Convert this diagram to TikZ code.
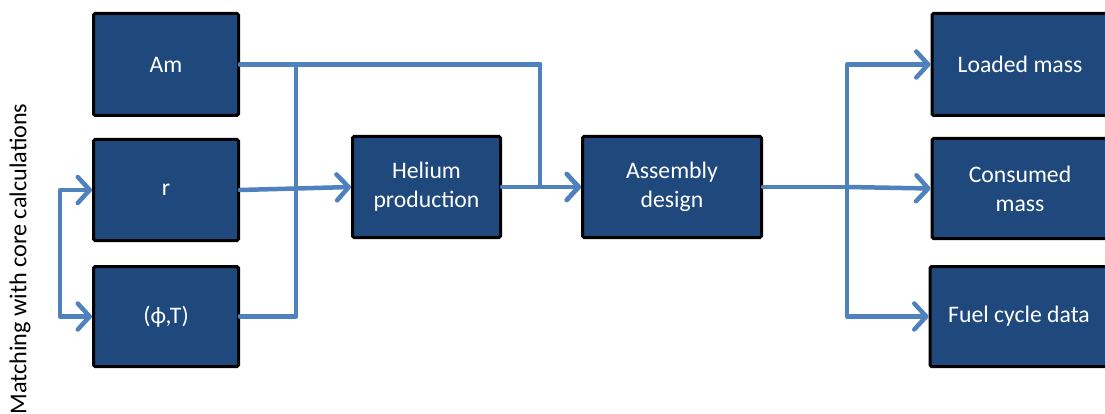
\documentclass[tikz,border=0pt]{standalone}
\usepackage{fontspec}
\setmainfont{Carlito}
\usetikzlibrary{arrows.meta}
\definecolor{boxblue}{HTML}{1F497D}
\definecolor{linkblue}{HTML}{4F81BD}
\begin{document}
\begin{tikzpicture}[x=1pt,y=-1pt,
  box/.style={draw=black, line width=3pt, fill=boxblue, rounded corners=1.5pt,
    text=white, align=center, font=\fontsize{23.7}{29}\selectfont, inner sep=0pt},
  lnk/.style={draw=linkblue, line width=4.5pt, line cap=round, line join=round},
  arr/.style={lnk, -{Straight Barb[length=12pt,width=26pt,line cap=round,line join=round]}}]
\useasboundingbox (0,0) rectangle (1105,414);
\clip (0,0) rectangle (1105,414);
% left column
\node[box, minimum width=145pt, minimum height=102pt] (am)  at (166,64.5) {Am};
\node[box, minimum width=145pt, minimum height=101pt] (r)   at (166,190) {r};
\node[box, minimum width=145pt, minimum height=100pt] (phi) at (166,316.5) {(ϕ,T)};
% middle
\node[box, minimum width=148pt, minimum height=101pt] (he) at (426.5,187) {Helium\\production};
\node[box, minimum width=179pt, minimum height=101pt] (as) at (672,187) {Assembly\\design};
% right column
\node[box, minimum width=176pt, minimum height=102pt] (lm) at (1020,64.5) {Loaded mass};
\node[box, minimum width=176pt, minimum height=100pt] (cm) at (1020,188.5) {Consumed\\mass};
\node[box, minimum width=178pt, minimum height=100pt] (fc) at (1019,316.5) {Fuel cycle data};
% side label
\node[rotate=90, font=\fontsize{24.2}{29}\selectfont, inner sep=0pt] (lab) at (20,259) {Matching with core calculations};
% coordinates
\coordinate (j1) at (540,64.5);
\coordinate (b1) at (296,64.5);
\coordinate (b2) at (847,187);
\coordinate (l1) at (60,250);
% connectors
\draw[lnk] (phi.east) -| (b1);
\draw[lnk] (am.east) -- (j1);
\draw[arr] (j1) |- (as.west);
\draw[arr] (r.east) -- (he.west);
\draw[arr] (he.east) -- (as.west);
\draw[lnk] (as.east) -- (b2);
\draw[arr] (b2) |- (lm.west);
\draw[arr] (b2) -- (cm.west);
\draw[arr] (b2) |- (fc.west);
\draw[arr] (l1) |- (r.west);
\draw[arr] (l1) |- (phi.west);
\end{tikzpicture}
\end{document}
